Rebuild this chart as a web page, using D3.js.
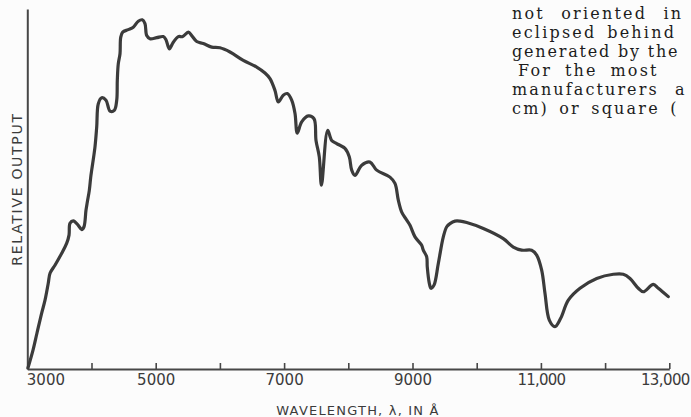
<!DOCTYPE html>
<html>
<head>
<meta charset="utf-8">
<script src="https://cdn.jsdelivr.net/npm/d3@7/dist/d3.min.js"></script>
<style>
  html, body { margin: 0; padding: 0; background: #fcfcfc; }
  svg { display: block; }
</style>
</head>
<body>
<svg id="chart" width="691" height="417"></svg>
<script>
// Solar spectral output versus wavelength (relative units, peak = 100)
const wavelength = [
  3010, 3089, 3151, 3224, 3276, 3327, 3354, 3431, 3536, 3614, 3650, 3665, 3717, 3794, 3847,
  3883, 3914, 3935, 3966, 3988, 4003, 4054, 4081, 4106, 4159, 4226, 4288, 4355, 4393, 4402,
  4417, 4444, 4455, 4486, 4573, 4651, 4729, 4791, 4833, 4860, 4911, 5016, 5118, 5160, 5212,
  5274, 5352, 5421, 5508, 5561, 5639, 5741, 5872, 6001, 6157, 6364, 6573, 6702, 6780, 6858,
  6910, 6987, 7050, 7118, 7170, 7205, 7274, 7377, 7466, 7497, 7548, 7582, 7679, 7741, 7819,
  7948, 8015, 8053, 8104, 8209, 8338, 8442, 8649, 8727, 8779, 8832, 8910, 8961, 9039, 9143,
  9168, 9221, 9230, 9262, 9288, 9335, 9402, 9480, 9533, 9584, 9662, 9740, 9844, 10103, 10414,
  10570, 10701, 10856, 10934, 11012, 11064, 11131, 11219, 11308, 11427, 11609, 11869, 12128, 12283, 12388,
  12517, 12595, 12751, 12829, 12984
];
const relativeOutput = [
  0.3, 5.4, 10.3, 16.0, 19.7, 24.6, 27.4, 29.7, 33.1, 36.0, 38.3, 41.7, 42.4, 41.1, 39.9,
  40.7, 45.4, 47.8, 51.1, 54.9, 56.9, 63.5, 69.2, 75.9, 77.6, 76.9, 73.8, 74.0, 76.9, 82.6,
  87.3, 90.2, 94.9, 96.4, 97.1, 97.8, 99.5, 99.9, 98.8, 95.4, 94.5, 94.8, 95.1, 94.2, 91.6,
  93.5, 95.1, 95.1, 96.4, 95.4, 93.7, 93.1, 92.1, 91.9, 90.7, 88.3, 86.4, 84.7, 83.1, 79.7,
  76.4, 78.3, 78.8, 76.9, 73.1, 67.5, 70.7, 72.4, 71.6, 65.4, 60.7, 52.6, 68.3, 65.4, 64.5,
  63.1, 60.7, 56.9, 55.4, 58.3, 59.2, 56.9, 54.9, 53.1, 48.3, 44.9, 42.6, 41.1, 37.8, 35.4,
  34.0, 32.1, 29.2, 24.5, 23.1, 24.0, 30.2, 37.8, 40.7, 41.6, 42.3, 42.3, 41.9, 40.2, 37.3,
  34.9, 34.0, 34.0, 32.6, 28.3, 21.6, 14.0, 12.1, 14.5, 19.7, 23.1, 25.9, 27.1, 27.1, 25.9,
  23.1, 22.1, 24.2, 23.1, 20.7
];

const tickValues = [3000, 4000, 5000, 6000, 7000, 8000, 9000, 10000, 11000, 12000, 13000];
const tickLabels = ["3000", "", "5000", "", "7000", "", "9000", "", "11,000", "", "13,000"];

// Running text of the page beside the figure
const textLines = [
  "not oriented in",
  "eclipsed behind",
  "generated by the",
  "For the most",
  "manufacturers a",
  "cm) or square ("
];

const ink = "#3b3b3b";
const svg = d3.select("#chart");

const x = d3.scaleLinear().domain([3000, 13000]).range([27.3, 669.3]);
const y = d3.scaleLinear().domain([0, 103]).range([369, 9]);

// x axis: baseline with short inward ticks
const xAxis = d3.axisBottom(x)
  .tickValues(tickValues)
  .tickSize(-6)
  .tickSizeOuter(0)
  .tickPadding(5)
  .tickFormat((d, i) => tickLabels[i]);

const gx = svg.append("g")
  .attr("transform", `translate(0,${y(0)})`)
  .call(xAxis);
gx.select(".domain").attr("stroke", "#474747").attr("stroke-width", 2);
gx.selectAll(".tick line").attr("stroke", "#474747").attr("stroke-width", 1.6);
gx.selectAll(".tick text")
  .attr("fill", ink)
  .attr("font-family", "'DejaVu Sans', sans-serif")
  .attr("font-size", 15);
gx.selectAll(".tick text").filter(d => d === 3000).attr("text-anchor", "start").attr("dx", -1);
gx.selectAll(".tick text").filter(d => d === 13000)
  .attr("text-anchor", "end").attr("dx", 20).attr("letter-spacing", -0.6);
gx.selectAll(".tick text").filter(d => d === 11000).attr("letter-spacing", -0.8);

// y axis: plain vertical rule
const yAxis = d3.axisLeft(y).tickValues([]).tickSizeOuter(0);
const gy = svg.append("g")
  .attr("transform", `translate(${x(3000)},0)`)
  .call(yAxis);
gy.select(".domain").attr("stroke", "#474747").attr("stroke-width", 2);

// spectrum curve
const line = d3.line()
  .x((d, i) => x(wavelength[i]))
  .y((d, i) => y(relativeOutput[i]))
  .curve(d3.curveCatmullRom.alpha(0.5));

svg.append("path")
  .datum(relativeOutput)
  .attr("d", line)
  .attr("fill", "none")
  .attr("stroke", ink)
  .attr("stroke-width", 3.2)
  .attr("stroke-linejoin", "round")
  .attr("stroke-linecap", "round");

// axis titles
svg.append("text")
  .attr("x", 358)
  .attr("y", 415)
  .attr("text-anchor", "middle")
  .attr("fill", ink)
  .attr("font-family", "'DejaVu Sans', sans-serif")
  .attr("font-size", 13)
  .attr("letter-spacing", 1.2)
  .text("WAVELENGTH, λ, IN Å");

svg.append("text")
  .attr("transform", "translate(21.5,189) rotate(-90)")
  .attr("text-anchor", "middle")
  .attr("fill", ink)
  .attr("font-family", "'DejaVu Sans', sans-serif")
  .attr("font-size", 14)
  .attr("letter-spacing", 1.7)
  .text("RELATIVE OUTPUT");

// page text at the upper right, justified with wide word gaps
const lineX = [512, 512, 512, 518, 512, 512];
const lineWordGap = [9, 3.5, 0, 5.5, 9, 3];
const lineTracking = [2.2, 2.2, 1.8, 2.2, 2.1, 2.2];
svg.append("g")
  .selectAll("text")
  .data(textLines)
  .join("text")
  .attr("x", (d, i) => lineX[i])
  .attr("y", (d, i) => 19 + i * 19)
  .attr("fill", "#1c1c1c")
  .attr("font-family", "'DejaVu Serif', serif")
  .attr("font-size", 16)
  .attr("letter-spacing", (d, i) => lineTracking[i])
  .attr("word-spacing", (d, i) => lineWordGap[i])
  .text(d => d);
</script>
</body>
</html>
